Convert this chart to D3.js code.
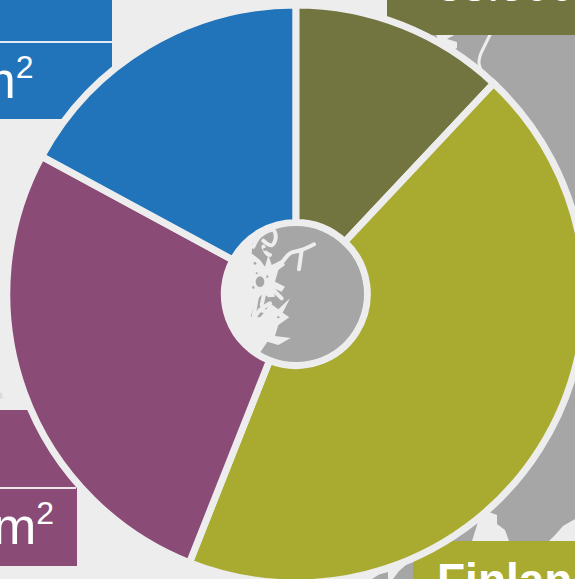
<!DOCTYPE html>
<html>
<head>
<meta charset="utf-8">
<style>
html,body{margin:0;padding:0;background:#ededed;overflow:hidden}
svg{display:block}
text{font-family:"Liberation Sans",Arial,sans-serif;fill:#fff}
</style>
<script src="https://cdn.jsdelivr.net/npm/d3@7"></script>
</head>
<body>
<script>
// Regional shares, clockwise from twelve o'clock
const regions = ["Olive", "Finland", "Purple", "Blue"];
const shares = [12.0, 44.0, 26.9, 17.1];
const colours = ["#72753f", "#a9aa30", "#8a4b76", "#2173ba"];

// Captions behind the ring
const blueUnit = "km";
const purpleUnit = "km";
const oliveValue = "33.500";
const finlandName = "Finland";

// Outline of the mainland beyond the ring, and its inlets
const landRight = [[415,35],[575,35],[575,519],[563,526],[556,534],[549,541],[509,541],[505,530],[497,524],[497,515],[486,511],[478,522],[472,541],[400,560],[300,400]];
const landIslet = [[393,579],[399,571],[407,564],[414,562],[414,579]];
const landSpeck = [[372,579],[380,574],[388,572],[388,579]];
const river = [[491,33],[484,47],[480,56],[479,63],[481,70],[484,78]];
const creekBlob = [[436,34],[456,34],[447,39],[457,42],[457,48],[450,52],[440,47]];
const shoreSmudge = [[-3,391],[2,393],[3,398],[-3,400]];

// Inset coastline, in inset map units
const insetSea = [[0,0],[205,0],[205,55],[180,62],[150,72],[128,100],[125,130],[150,150],[165,170],[175,135],[185,165],[215,150],[225,165],[205,180],[195,215],[225,230],[215,245],[190,235],[195,260],[175,262],[160,250],[135,275],[122,320],[150,322],[165,305],[180,280],[205,298],[240,265],[218,308],[238,322],[205,345],[195,378],[242,384],[205,405],[172,395],[150,428],[100,510],[0,510]];
const insetChannels = [
  [[130,110],[150,78],[190,60],[197,85],[185,106],[160,92]],
  [[195,178],[215,158],[240,130],[275,120],[312,103]],
  [[275,120],[267,178]],
  [[165,240],[155,285]],
  [[140,265],[128,335]],
  [[160,110],[170,130],[180,135]],
  [[180,280],[150,300],[135,320]],
  [[190,240],[215,265]],
  [[150,300],[190,310]]
];
const insetIslets = [[150,215,13,16],[130,232,3,5],[135,160,4,4],[166,118,7,5],[205,322,4,3],[140,190,3,3],[128,130,2,3],[172,200,3,4]];

const width = 575, height = 579;
const cx = 295.8, cy = 294;
const ringGap = 7, innerR = 71.5, outerR = 289;
const page = "#ededed", land = "#a6a6a6";

const svg = d3.select("body").append("svg").attr("width", width).attr("height", height);
const defs = svg.append("defs");
defs.append("filter").attr("id", "soft")
  .append("feGaussianBlur").attr("stdDeviation", 0.6);
defs.append("clipPath").attr("id", "insetClip")
  .append("circle").attr("cx", cx).attr("cy", cy).attr("r", innerR - ringGap / 2);

const outline = d3.line();
const smooth = d3.line().curve(d3.curveCatmullRom);

// Mainland
const base = svg.append("g").attr("filter", "url(#soft)");
[landRight, landIslet, landSpeck].forEach(p =>
  base.append("path").attr("d", outline(p) + "Z").attr("fill", land));
base.append("path").attr("d", outline(shoreSmudge) + "Z").attr("fill", "#dcdcdc");
base.append("path").attr("d", outline(creekBlob) + "Z").attr("fill", page);
base.append("path").attr("d", smooth(river)).attr("fill", "none")
  .attr("stroke", page).attr("stroke-width", 3).attr("stroke-linecap", "round");

// Caption boxes
function box(x, y, w, h, colour) {
  svg.append("rect").attr("x", x).attr("y", y).attr("width", w).attr("height", h).attr("fill", colour);
}
function divider(x2, y) {
  svg.append("line").attr("x1", 0).attr("x2", x2).attr("y1", y).attr("y2", y)
    .attr("stroke", "#fff").attr("stroke-opacity", 0.85).attr("stroke-width", 2);
}
function unit(xEnd, y, label) {
  const t = svg.append("text").attr("x", xEnd).attr("y", y).attr("text-anchor", "end")
    .attr("font-size", 52);
  t.append("tspan").text(label);
  t.append("tspan").attr("font-size", 32).attr("dy", -20).text("2");
}
box(-10, -10, 122, 129, colours[3]);
divider(112, 42);
unit(33.5, 98, blueUnit);
box(-10, 410, 87, 156, colours[2]);
divider(76, 488);
unit(54, 544, purpleUnit);
box(387, -20, 200, 55, colours[0]);
svg.append("text").attr("x", 437).attr("y", 1).attr("font-size", 45).text(oliveValue);
box(413, 541, 170, 50, colours[1]);
svg.append("text").attr("x", 437).attr("y", 596).attr("font-size", 46).attr("font-weight", "bold").text(finlandName);

// Donut
const pie = d3.pie().sort(null).value(d => d);
const arc = d3.arc().innerRadius(innerR).outerRadius(outerR);
svg.append("g").attr("transform", `translate(${cx},${cy})`)
  .selectAll("path").data(pie(shares)).join("path")
  .attr("d", arc)
  .attr("fill", (d, i) => colours[i])
  .attr("stroke", page).attr("stroke-width", ringGap);

// Inset map in the hole
const ix = d3.scaleLinear().domain([0, 510]).range([210, 380]);
const iy = d3.scaleLinear().domain([0, 510]).range([210, 380]);
const toPage = p => p.map(d => [ix(d[0]), iy(d[1])]);
const inset = svg.append("g").attr("clip-path", "url(#insetClip)").append("g").attr("filter", "url(#soft)");
inset.append("rect").attr("x", 210).attr("y", 210).attr("width", 170).attr("height", 170).attr("fill", land);
inset.append("path").attr("d", outline(toPage(insetSea)) + "Z").attr("fill", page);
inset.selectAll("path.channel").data(insetChannels).join("path").attr("class", "channel")
  .attr("d", d => smooth(toPage(d))).attr("fill", "none").attr("stroke", page)
  .attr("stroke-width", 4).attr("stroke-linecap", "round").attr("stroke-linejoin", "round");
inset.selectAll("ellipse").data(insetIslets).join("ellipse")
  .attr("cx", d => ix(d[0])).attr("cy", d => iy(d[1]))
  .attr("rx", d => d[2] / 3).attr("ry", d => d[3] / 3).attr("fill", land);
</script>
</body>
</html>
